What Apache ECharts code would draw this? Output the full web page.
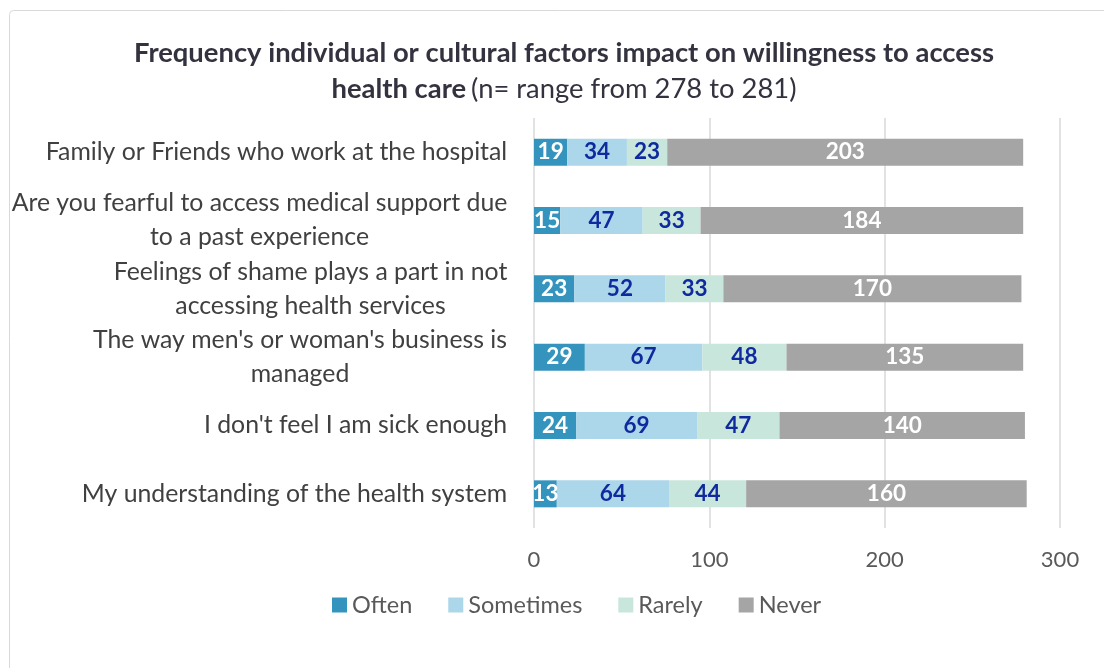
<!DOCTYPE html>
<html><head><meta charset="utf-8">
<script src="https://cdn.jsdelivr.net/npm/echarts@6/dist/echarts.min.js"></script>
<style>html,body{margin:0;padding:0;background:#fff}#c{width:1104px;height:668px}</style>
</head><body><div id="c"></div>
<script>
const categories = [
  "Family or Friends who work at the hospital",
  "Are you fearful to access medical support due\nto a past experience",
  "Feelings of shame plays a part in not\naccessing health services",
  "The way men's or woman's business is\nmanaged",
  "I don't feel I am sick enough",
  "My understanding of the health system"
];
const often = [19, 15, 23, 29, 24, 13];
const sometimes = [34, 47, 52, 67, 69, 64];
const rarely = [23, 33, 33, 48, 47, 44];
const never = [203, 184, 170, 135, 140, 160];
const xTicks = [0, 100, 200, 300];

const FONT = 'Lato';
const LABEL_SIZE = 24.8;
const colors = ['#3594bd', '#acd6e9', '#c8e6dc', '#a5a5a5'];

// measure widest line of each category label so lines are centred within the block
const ctx = document.createElement('canvas').getContext('2d');
ctx.font = LABEL_SIZE + 'px ' + FONT;
const rich = {};
categories.forEach((c, i) => {
  const w = Math.max(...c.split('\n').map(l => ctx.measureText(l).width));
  rich['w' + i] = { width: Math.ceil(w) + 1, align: 'center', fontFamily: FONT, fontSize: LABEL_SIZE, color: '#404040', lineHeight: 34 };
});

function ser(name, data, color, labelColor) {
  return {
    name, type: 'bar', stack: 't', data, barWidth: 27,
    itemStyle: { color },
    label: { show: true, position: 'inside', color: labelColor, fontFamily: FONT, fontWeight: 'bold', fontSize: 22.5 },
    emphasis: { disabled: true }
  };
}
const chart = echarts.init(document.getElementById('c'), null, { renderer: 'canvas' });
chart.setOption({
  animation: false,
  graphic: [{ type: 'rect', shape: { x: 9.5, y: 10.5, width: 1110, height: 700, r: 4 }, style: { fill: 'none', stroke: '#d9d9d9', lineWidth: 1 }, z: -1 }],
  title: {
    left: 559, top: 30, textAlign: 'center',
    text: '{b|Frequency individual or cultural factors impact on willingness to access}\n{b|health care} {n|(n= range from 278 to 281)}',
    textStyle: {
      rich: {
        b: { fontFamily: FONT, fontWeight: 'bold', fontSize: 27.4, color: '#333340', lineHeight: 36 },
        n: { fontFamily: FONT, fontWeight: 'normal', fontSize: 27.4, color: '#333340', lineHeight: 36 }
      }
    }
  },
  legend: {
    bottom: 46, left: 327, itemWidth: 15, itemHeight: 15, itemGap: 36,
    icon: 'rect',
    textStyle: { fontFamily: FONT, fontSize: 23.5, color: '#595959' },
    data: ['Often', 'Sometimes', 'Rarely', 'Never']
  },
  grid: { left: 534, right: 44, top: 118, bottom: 140, containLabel: false },
  xAxis: {
    type: 'value', min: 0, max: 300, interval: 100,
    axisLine: { show: false }, axisTick: { show: false },
    splitLine: { lineStyle: { color: '#d9d9d9', width: 1.5 } },
    axisLabel: { fontFamily: FONT, fontSize: 22, color: '#595959', margin: 21,
      formatter: v => xTicks.includes(v) ? String(v) : '' }
  },
  yAxis: {
    type: 'category', data: categories, inverse: true,
    axisLine: { show: false }, axisTick: { show: false },
    axisLabel: {
      margin: 26, align: 'right', rich,
      formatter: (v, i) => v.split('\n').map(l => '{w' + i + '|' + l + '}').join('\n')
    }
  },
  series: [
    ser('Often', often, colors[0], '#ffffff'),
    ser('Sometimes', sometimes, colors[1], '#0f2a9e'),
    ser('Rarely', rarely, colors[2], '#0f2a9e'),
    ser('Never', never, colors[3], '#ffffff')
  ]
});
</script></body></html>
